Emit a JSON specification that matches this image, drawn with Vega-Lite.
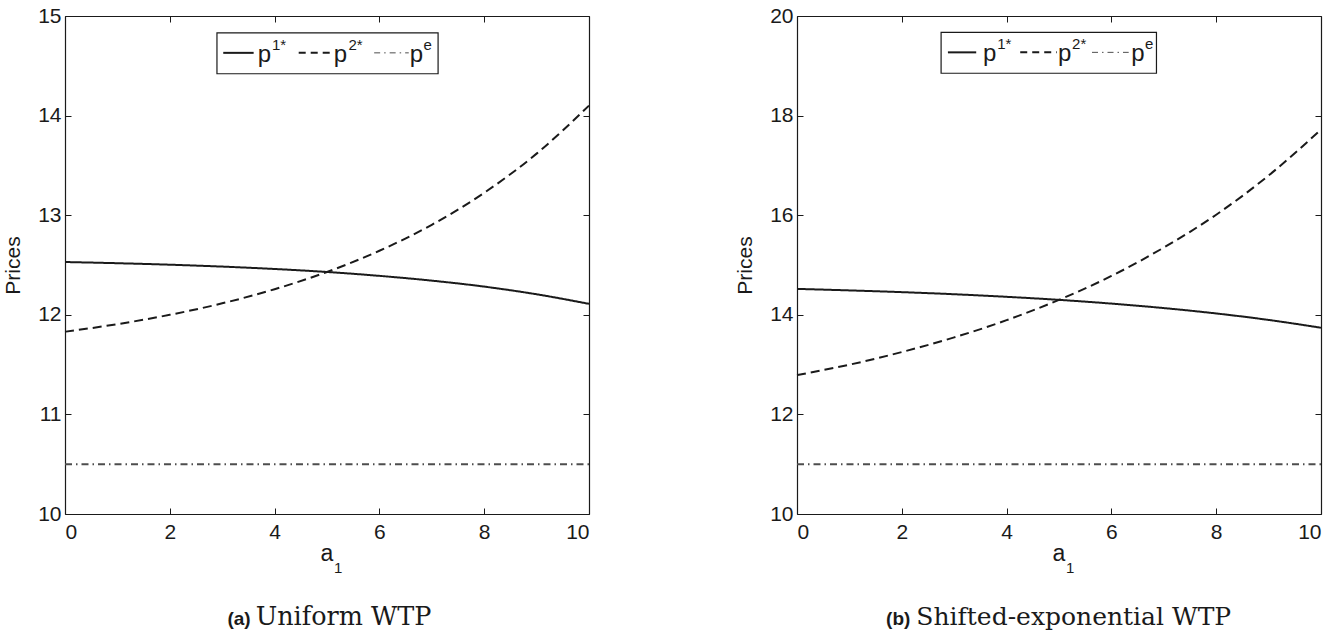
{
"$schema": "https://vega.github.io/schema/vega-lite/v6.json",
"padding": {"left": 2, "top": 5, "right": 0, "bottom": 0},
"background": "white",
"spacing": 208,
"bounds": "flush",
"config": {
  "view": {"stroke": null},
  "axis": {"domainColor": "#1a1a1a", "domainWidth": 1.2, "tickColor": "#1a1a1a", "tickWidth": 1, "tickSize": -6, "grid": false,
           "labelFont": "Liberation Sans", "labelFontSize": 21, "labelColor": "#1a1a1a",
           "titleFont": "Liberation Sans", "titleFontSize": 21, "titleFontWeight": "normal", "titleColor": "#1a1a1a"}
},
"hconcat": [
{
  "width": 524, "height": 498,
  "resolve": {"axis": {"x": "independent", "y": "independent"}},
  "layer": [
    {
      "data": {"values": [
        {"a1":0,"series":"p1","price":12.53},{"a1":1,"series":"p1","price":12.518},{"a1":2,"series":"p1","price":12.503},{"a1":3,"series":"p1","price":12.484},{"a1":4,"series":"p1","price":12.46},{"a1":5,"series":"p1","price":12.43},{"a1":6,"series":"p1","price":12.391},{"a1":7,"series":"p1","price":12.343},{"a1":8,"series":"p1","price":12.283},{"a1":9,"series":"p1","price":12.206},{"a1":10,"series":"p1","price":12.11},
        {"a1":0,"series":"p2","price":11.83},{"a1":1,"series":"p2","price":11.906},{"a1":2,"series":"p2","price":12.0},{"a1":3,"series":"p2","price":12.115},{"a1":4,"series":"p2","price":12.257},{"a1":5,"series":"p2","price":12.43},{"a1":6,"series":"p2","price":12.643},{"a1":7,"series":"p2","price":12.904},{"a1":8,"series":"p2","price":13.225},{"a1":9,"series":"p2","price":13.618},{"a1":10,"series":"p2","price":14.1},
        {"a1":0,"series":"pe","price":10.5},{"a1":1,"series":"pe","price":10.5},{"a1":2,"series":"pe","price":10.5},{"a1":3,"series":"pe","price":10.5},{"a1":4,"series":"pe","price":10.5},{"a1":5,"series":"pe","price":10.5},{"a1":6,"series":"pe","price":10.5},{"a1":7,"series":"pe","price":10.5},{"a1":8,"series":"pe","price":10.5},{"a1":9,"series":"pe","price":10.5},{"a1":10,"series":"pe","price":10.5}
      ]},
      "mark": {"type": "line", "interpolate": "monotone"},
      "encoding": {
        "x": {"field": "a1", "type": "quantitative", "scale": {"domain": [0, 10], "nice": false}, "axis": {"orient": "bottom", "values": [0,2,4,6,8,10], "title": null, "labelPadding": 13}},
        "y": {"field": "price", "type": "quantitative", "scale": {"domain": [10, 15], "nice": false, "zero": false}, "axis": {"orient": "left", "values": [10,11,12,13,14,15], "title": "Prices", "labelPadding": 10, "titlePadding": 14}},
        "strokeDash": {"field": "series", "type": "nominal", "scale": {"domain": ["p1","p2","pe"], "range": [[1,0],[9,5],[7,4,1.5,4]]}, "legend": null},
        "strokeWidth": {"field": "series", "type": "ordinal", "scale": {"domain": ["p1","p2","pe"], "range": [2,2,1]}, "legend": null},
        "color": {"field": "series", "type": "nominal", "scale": {"domain": ["p1","p2","pe"], "range": ["#1a1a1a","#1a1a1a","#4d4d4d"]}, "legend": null}
      }
    },
    {
      "data": {"values": [{"item": "legend"}]},
      "mark": {"type": "rect", "fill": "white", "stroke": "#1a1a1a", "strokeWidth": 1.2},
      "encoding": {
        "x": {"datum": 2.9, "type": "quantitative", "scale": {"domain": [0, 10], "nice": false}, "axis": {"orient": "top", "values": [0,2,4,6,8,10], "labels": false, "title": null}},
        "x2": {"datum": 7.12},
        "y": {"datum": 14.83, "type": "quantitative", "scale": {"domain": [10, 15], "nice": false, "zero": false}, "axis": {"orient": "right", "values": [10,11,12,13,14,15], "labels": false, "title": null}},
        "y2": {"datum": 14.42}
      }
    },
    {"data": {"values": [{"s": "p1"}]}, "mark": {"type": "rule", "strokeWidth": 2, "color": "#1a1a1a"},
     "encoding": {"x": {"datum": 3.02, "axis": null}, "x2": {"datum": 3.6}, "y": {"datum": 14.63, "axis": null}}},
    {"data": {"values": [{"s": "p2"}]}, "mark": {"type": "rule", "strokeWidth": 2, "color": "#1a1a1a", "strokeDash": [7,5]},
     "encoding": {"x": {"datum": 4.46, "axis": null}, "x2": {"datum": 5.08}, "y": {"datum": 14.63, "axis": null}}},
    {"data": {"values": [{"s": "pe"}]}, "mark": {"type": "rule", "strokeWidth": 1, "color": "#4d4d4d", "strokeDash": [6,4,1.5,4]},
     "encoding": {"x": {"datum": 5.90, "axis": null}, "x2": {"datum": 6.56}, "y": {"datum": 14.63, "axis": null}}},
    {"data": {"values": [{"t": "p"}]}, "mark": {"type": "text", "align": "left", "baseline": "alphabetic", "font": "Liberation Sans", "fontSize": 24, "color": "#1a1a1a"},
     "encoding": {"x": {"datum": 3.68, "axis": null}, "y": {"datum": 14.54, "axis": null}, "text": {"field": "t"}}},
    {"data": {"values": [{"t": "1*"}]}, "mark": {"type": "text", "align": "left", "baseline": "alphabetic", "font": "Liberation Sans", "fontSize": 15, "color": "#1a1a1a"},
     "encoding": {"x": {"datum": 3.95, "axis": null}, "y": {"datum": 14.66, "axis": null}, "text": {"field": "t"}}},
    {"data": {"values": [{"t": "p"}]}, "mark": {"type": "text", "align": "left", "baseline": "alphabetic", "font": "Liberation Sans", "fontSize": 24, "color": "#1a1a1a"},
     "encoding": {"x": {"datum": 5.13, "axis": null}, "y": {"datum": 14.54, "axis": null}, "text": {"field": "t"}}},
    {"data": {"values": [{"t": "2*"}]}, "mark": {"type": "text", "align": "left", "baseline": "alphabetic", "font": "Liberation Sans", "fontSize": 15, "color": "#1a1a1a"},
     "encoding": {"x": {"datum": 5.41, "axis": null}, "y": {"datum": 14.66, "axis": null}, "text": {"field": "t"}}},
    {"data": {"values": [{"t": "p"}]}, "mark": {"type": "text", "align": "left", "baseline": "alphabetic", "font": "Liberation Sans", "fontSize": 24, "color": "#1a1a1a"},
     "encoding": {"x": {"datum": 6.58, "axis": null}, "y": {"datum": 14.54, "axis": null}, "text": {"field": "t"}}},
    {"data": {"values": [{"t": "e"}]}, "mark": {"type": "text", "align": "left", "baseline": "alphabetic", "font": "Liberation Sans", "fontSize": 15, "color": "#1a1a1a"},
     "encoding": {"x": {"datum": 6.84, "axis": null}, "y": {"datum": 14.66, "axis": null}, "text": {"field": "t"}}},
    {"data": {"values": [{"t": "a"}]}, "mark": {"type": "text", "align": "center", "baseline": "alphabetic", "dy": 47, "font": "Liberation Sans", "fontSize": 23, "color": "#1a1a1a"},
     "encoding": {"x": {"datum": 5, "axis": null}, "y": {"datum": 10, "axis": null}, "text": {"field": "t"}}},
    {"data": {"values": [{"t": "1"}]}, "mark": {"type": "text", "align": "left", "baseline": "alphabetic", "dx": 7, "dy": 59, "font": "Liberation Sans", "fontSize": 15, "color": "#1a1a1a"},
     "encoding": {"x": {"datum": 5, "axis": null}, "y": {"datum": 10, "axis": null}, "text": {"field": "t"}}},
    {"data": {"values": [{"t": "(a)"}]}, "mark": {"type": "text", "align": "right", "baseline": "alphabetic", "dx": -3, "dy": 111, "font": "Liberation Sans", "fontWeight": "bold", "fontSize": 19, "color": "#1a1a1a"},
     "encoding": {"x": {"datum": 3.6, "axis": null}, "y": {"datum": 10, "axis": null}, "text": {"field": "t"}}},
    {"data": {"values": [{"t": "Uniform WTP"}]}, "mark": {"type": "text", "align": "left", "baseline": "alphabetic", "dx": 2, "dy": 111, "font": "DejaVu Serif", "fontSize": 25.5, "color": "#1a1a1a"},
     "encoding": {"x": {"datum": 3.6, "axis": null}, "y": {"datum": 10, "axis": null}, "text": {"field": "t"}}}
  ]
},
{
  "width": 524, "height": 498,
  "resolve": {"axis": {"x": "independent", "y": "independent"}},
  "layer": [
    {
      "data": {"values": [
        {"a1":0,"series":"p1","price":14.52},{"a1":1,"series":"p1","price":14.49},{"a1":2,"series":"p1","price":14.455},{"a1":3,"series":"p1","price":14.413},{"a1":4,"series":"p1","price":14.361},{"a1":5,"series":"p1","price":14.3},{"a1":6,"series":"p1","price":14.225},{"a1":7,"series":"p1","price":14.135},{"a1":8,"series":"p1","price":14.027},{"a1":9,"series":"p1","price":13.897},{"a1":10,"series":"p1","price":13.74},
        {"a1":0,"series":"p2","price":12.79},{"a1":1,"series":"p2","price":12.998},{"a1":2,"series":"p2","price":13.252},{"a1":3,"series":"p2","price":13.546},{"a1":4,"series":"p2","price":13.892},{"a1":5,"series":"p2","price":14.3},{"a1":6,"series":"p2","price":14.78},{"a1":7,"series":"p2","price":15.35},{"a1":8,"series":"p2","price":16.01},{"a1":9,"series":"p2","price":16.797},{"a1":10,"series":"p2","price":17.72},
        {"a1":0,"series":"pe","price":11.0},{"a1":1,"series":"pe","price":11.0},{"a1":2,"series":"pe","price":11.0},{"a1":3,"series":"pe","price":11.0},{"a1":4,"series":"pe","price":11.0},{"a1":5,"series":"pe","price":11.0},{"a1":6,"series":"pe","price":11.0},{"a1":7,"series":"pe","price":11.0},{"a1":8,"series":"pe","price":11.0},{"a1":9,"series":"pe","price":11.0},{"a1":10,"series":"pe","price":11.0}
      ]},
      "mark": {"type": "line", "interpolate": "monotone"},
      "encoding": {
        "x": {"field": "a1", "type": "quantitative", "scale": {"domain": [0, 10], "nice": false}, "axis": {"orient": "bottom", "values": [0,2,4,6,8,10], "title": null, "labelPadding": 13}},
        "y": {"field": "price", "type": "quantitative", "scale": {"domain": [10, 20], "nice": false, "zero": false}, "axis": {"orient": "left", "values": [10,12,14,16,18,20], "title": "Prices", "labelPadding": 10, "titlePadding": 14}},
        "strokeDash": {"field": "series", "type": "nominal", "scale": {"domain": ["p1","p2","pe"], "range": [[1,0],[9,5],[7,4,1.5,4]]}, "legend": null},
        "strokeWidth": {"field": "series", "type": "ordinal", "scale": {"domain": ["p1","p2","pe"], "range": [2,2,1]}, "legend": null},
        "color": {"field": "series", "type": "nominal", "scale": {"domain": ["p1","p2","pe"], "range": ["#1a1a1a","#1a1a1a","#4d4d4d"]}, "legend": null}
      }
    },
    {
      "data": {"values": [{"item": "legend"}]},
      "mark": {"type": "rect", "fill": "white", "stroke": "#1a1a1a", "strokeWidth": 1.2},
      "encoding": {
        "x": {"datum": 2.75, "type": "quantitative", "scale": {"domain": [0, 10], "nice": false}, "axis": {"orient": "top", "values": [0,2,4,6,8,10], "labels": false, "title": null}},
        "x2": {"datum": 6.86},
        "y": {"datum": 19.67, "type": "quantitative", "scale": {"domain": [10, 20], "nice": false, "zero": false}, "axis": {"orient": "right", "values": [10,12,14,16,18,20], "labels": false, "title": null}},
        "y2": {"datum": 18.85}
      }
    },
    {"data": {"values": [{"s": "p1"}]}, "mark": {"type": "rule", "strokeWidth": 2, "color": "#1a1a1a"},
     "encoding": {"x": {"datum": 2.88, "axis": null}, "x2": {"datum": 3.42}, "y": {"datum": 19.27, "axis": null}}},
    {"data": {"values": [{"s": "p2"}]}, "mark": {"type": "rule", "strokeWidth": 2, "color": "#1a1a1a", "strokeDash": [7,5]},
     "encoding": {"x": {"datum": 4.26, "axis": null}, "x2": {"datum": 4.96}, "y": {"datum": 19.27, "axis": null}}},
    {"data": {"values": [{"s": "pe"}]}, "mark": {"type": "rule", "strokeWidth": 1, "color": "#4d4d4d", "strokeDash": [6,4,1.5,4]},
     "encoding": {"x": {"datum": 5.63, "axis": null}, "x2": {"datum": 6.33}, "y": {"datum": 19.27, "axis": null}}},
    {"data": {"values": [{"t": "p"}]}, "mark": {"type": "text", "align": "left", "baseline": "alphabetic", "font": "Liberation Sans", "fontSize": 24, "color": "#1a1a1a"},
     "encoding": {"x": {"datum": 3.55, "axis": null}, "y": {"datum": 19.09, "axis": null}, "text": {"field": "t"}}},
    {"data": {"values": [{"t": "1*"}]}, "mark": {"type": "text", "align": "left", "baseline": "alphabetic", "font": "Liberation Sans", "fontSize": 15, "color": "#1a1a1a"},
     "encoding": {"x": {"datum": 3.82, "axis": null}, "y": {"datum": 19.33, "axis": null}, "text": {"field": "t"}}},
    {"data": {"values": [{"t": "p"}]}, "mark": {"type": "text", "align": "left", "baseline": "alphabetic", "font": "Liberation Sans", "fontSize": 24, "color": "#1a1a1a"},
     "encoding": {"x": {"datum": 4.98, "axis": null}, "y": {"datum": 19.09, "axis": null}, "text": {"field": "t"}}},
    {"data": {"values": [{"t": "2*"}]}, "mark": {"type": "text", "align": "left", "baseline": "alphabetic", "font": "Liberation Sans", "fontSize": 15, "color": "#1a1a1a"},
     "encoding": {"x": {"datum": 5.25, "axis": null}, "y": {"datum": 19.33, "axis": null}, "text": {"field": "t"}}},
    {"data": {"values": [{"t": "p"}]}, "mark": {"type": "text", "align": "left", "baseline": "alphabetic", "font": "Liberation Sans", "fontSize": 24, "color": "#1a1a1a"},
     "encoding": {"x": {"datum": 6.38, "axis": null}, "y": {"datum": 19.09, "axis": null}, "text": {"field": "t"}}},
    {"data": {"values": [{"t": "e"}]}, "mark": {"type": "text", "align": "left", "baseline": "alphabetic", "font": "Liberation Sans", "fontSize": 15, "color": "#1a1a1a"},
     "encoding": {"x": {"datum": 6.64, "axis": null}, "y": {"datum": 19.33, "axis": null}, "text": {"field": "t"}}},
    {"data": {"values": [{"t": "a"}]}, "mark": {"type": "text", "align": "center", "baseline": "alphabetic", "dy": 47, "font": "Liberation Sans", "fontSize": 23, "color": "#1a1a1a"},
     "encoding": {"x": {"datum": 5, "axis": null}, "y": {"datum": 10, "axis": null}, "text": {"field": "t"}}},
    {"data": {"values": [{"t": "1"}]}, "mark": {"type": "text", "align": "left", "baseline": "alphabetic", "dx": 7, "dy": 59, "font": "Liberation Sans", "fontSize": 15, "color": "#1a1a1a"},
     "encoding": {"x": {"datum": 5, "axis": null}, "y": {"datum": 10, "axis": null}, "text": {"field": "t"}}},
    {"data": {"values": [{"t": "(b)"}]}, "mark": {"type": "text", "align": "right", "baseline": "alphabetic", "dx": -3, "dy": 111, "font": "Liberation Sans", "fontWeight": "bold", "fontSize": 19, "color": "#1a1a1a"},
     "encoding": {"x": {"datum": 2.22, "axis": null}, "y": {"datum": 10, "axis": null}, "text": {"field": "t"}}},
    {"data": {"values": [{"t": "Shifted-exponential WTP"}]}, "mark": {"type": "text", "align": "left", "baseline": "alphabetic", "dx": 3, "dy": 111, "font": "DejaVu Serif", "fontSize": 25, "color": "#1a1a1a"},
     "encoding": {"x": {"datum": 2.22, "axis": null}, "y": {"datum": 10, "axis": null}, "text": {"field": "t"}}}
  ]
}
]
}
